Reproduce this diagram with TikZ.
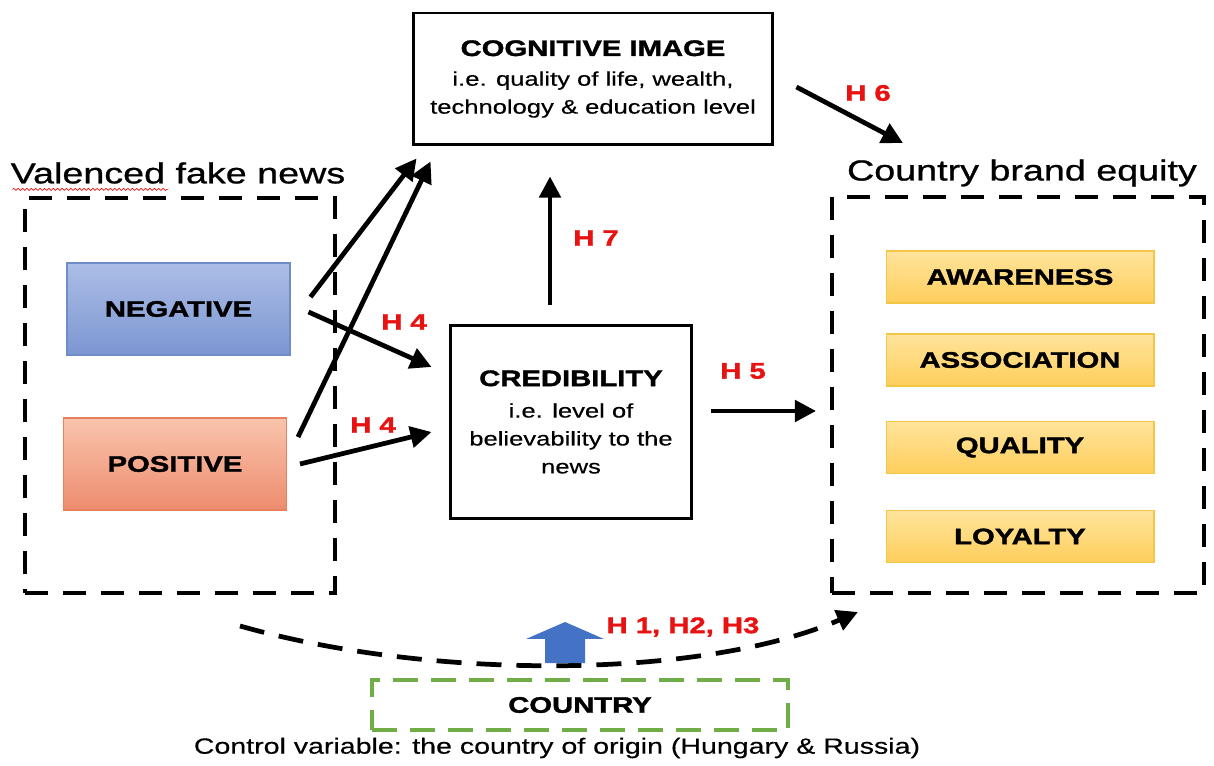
\documentclass[tikz,border=0pt]{standalone}
\usepackage{fontspec}
\setmainfont{Liberation Sans}[FakeStretch=1.3, FakeBold=0.4, BoldFeatures={FakeBold=1.6}]
\newfontfamily\grpfont{Liberation Sans}[FakeStretch=1.3, FakeBold=0.9]
\usetikzlibrary{arrows.meta,decorations.pathmorphing}

\definecolor{hred}{RGB}{232,18,18}
\definecolor{negtop}{RGB}{172,190,230}
\definecolor{negbot}{RGB}{124,150,210}
\definecolor{negline}{RGB}{110,140,200}
\definecolor{postop}{RGB}{248,196,172}
\definecolor{posbot}{RGB}{238,140,110}
\definecolor{posline}{RGB}{232,128,95}
\definecolor{yeltop}{RGB}{255,228,156}
\definecolor{yelbot}{RGB}{255,206,92}
\definecolor{yelline}{RGB}{244,198,72}
\definecolor{ctrygreen}{RGB}{112,173,71}
\definecolor{upblue}{RGB}{68,114,196}

\tikzset{
	boldtxt/.style={font=\bfseries\fontsize{12.8}{15}\selectfont},
	hlabel/.style={text=hred, font=\bfseries\fontsize{12.8}{15}\selectfont},
	textbox/.style={draw, line width=1.7pt, align=center, font=\fontsize{11.2}{15.9}\selectfont},
	valbox/.style={boldtxt, line width=0.6pt, minimum width=4.46cm, minimum height=1.84cm},
	dimbox/.style={boldtxt, draw=yelline, top color=yeltop, bottom color=yelbot, line width=0.6pt, minimum width=5.36cm, minimum height=1.04cm},
	dashbox/.style={draw, line width=2.3pt, dash pattern=on 0.46cm off 0.3cm},
	grptitle/.style={inner sep=0pt, font=\grpfont\fontsize{16.5}{20}\selectfont},
	arr/.style={->, >={Triangle[length=12pt,width=12pt]}, line width=2.7pt},
}

\begin{document}
\begin{tikzpicture}[x=0.02cm, y=-0.02cm]
			\useasboundingbox (0,0) rectangle (1214,766);
			% groups
			\node[dashbox, minimum width=6.2cm, minimum height=7.9cm] (lbox) at (180,395.5) {};
			\node[dashbox, minimum width=7.44cm, minimum height=7.92cm] (rbox) at (1018,395) {};
			\node[grptitle] (vfn) at (178,173) {Valenced fake news};
			\node[grptitle] (cbe) at (1022,173) {Country brand equity};
			\draw[hred, line width=0.4pt, decorate, decoration={snake, amplitude=0.6pt, segment length=2.5pt}]
				([shift={(2,6)}]vfn.base west) -- ([shift={(158,6)}]vfn.base west);
			% boxes
			\node[valbox, draw=negline, top color=negtop, bottom color=negbot] (neg) at (178.5,309) {NEGATIVE};
			\node[valbox, draw=posline, top color=postop, bottom color=posbot] (pos) at (175,464) {POSITIVE};
			\node[textbox, minimum width=7.2cm, minimum height=2.64cm] (cog) at (593,79)
				{{\bfseries\fontsize{12.8}{15}\selectfont COGNITIVE IMAGE}\\[1pt]
				i.e. quality of life, wealth,\\ technology \& education level};
			\node[textbox, minimum width=4.84cm, minimum height=3.88cm] (cred) at (571,422)
				{{\bfseries\fontsize{12.8}{15}\selectfont CREDIBILITY}\\[2pt]
				i.e. level of\\ believability to the\\ news};
			\node[dimbox] (aw) at (1020,277) {AWARENESS};
			\node[dimbox] (as) at (1020,360) {ASSOCIATION};
			\node[dimbox] (qu) at (1020,447.5) {QUALITY};
			\node[dimbox] (lo) at (1020,536.5) {LOYALTY};
			\node[boldtxt, draw=ctrygreen, line width=2.3pt, dash pattern=on 0.5cm off 0.26cm,
				minimum width=8.32cm, minimum height=1cm] (ctry) at (580,705) {COUNTRY};
			\node[font=\fontsize{12.5}{15}\selectfont] (ctrl) at (557,748)
				{Control variable: the country of origin (Hungary \& Russia)};
			% arrows
			\draw[arr] ([shift={(20,-12)}]neg.east) -- ([shift={(5,12)}]cog.south west);
			\draw[arr] ([shift={(11,-27)}]pos.east) -- ([shift={(19,15)}]cog.south west);
			\draw[arr] ([shift={(18,3)}]neg.east) -- ([shift={(-17,-55)}]cred.west);
			\draw[arr] ([shift={(13,0)}]pos.east) -- ([shift={(-17,10)}]cred.west);
			\draw[arr] ([shift={(-21,-19)}]cred.north) -- ([shift={(-43,30)}]cog.south);
			\draw[arr] ([shift={(22,8)}]cog.east) -- ([shift={(73,-52)}]rbox.north west);
			\draw[arr] ([shift={(18,-11)}]cred.east) -- ([shift={(-14,16)}]rbox.west);
			\draw[arr, dash pattern=on 0.5cm off 0.3cm] ([shift={(60,31)}]lbox.south)
				.. controls (430,680) and (700,680) .. ([shift={(28,17)}]rbox.south west);
			\fill[upblue] (545,663) -- (545,639) -- (526,639) -- (565,622) -- (604,639) -- (585,639) -- (585,663) -- cycle;
			% labels
			\node[hlabel] (h4a) at (404,322) {H 4};
			\node[hlabel] (h4b) at (373,425) {H 4};
			\node[hlabel] (h7) at (596,238) {H 7};
			\node[hlabel] (h6) at (868,93) {H 6};
			\node[hlabel] (h5) at (743,371) {H 5};
			\node[hlabel] (h123) at (683,627) {H 1, H2, H3};
\end{tikzpicture}
\end{document}
